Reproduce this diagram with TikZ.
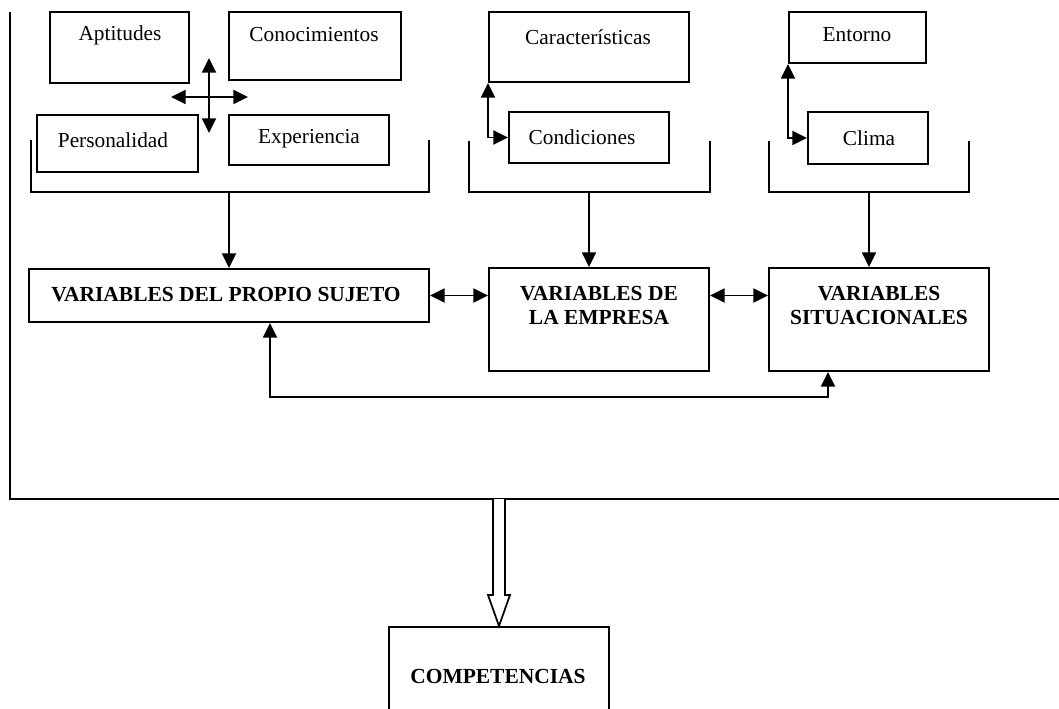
\documentclass[tikz,border=0pt]{standalone}
\usepackage{fontspec}
\setmainfont{Liberation Serif}
\usetikzlibrary{arrows.meta,calc}
% box given by name and its two corners (x1,y1) (x2,y2)
\newcommand\cajon[5]{%
  \node[box,minimum width={(#4-#2)*0.75pt},minimum height={(#5-#3)*0.75pt}]
    (#1) at ({(#2+#4)/2},{(#3+#5)/2}) {};}
\begin{document}
\begin{tikzpicture}[x=0.75pt,y=-0.75pt,
  box/.style={draw,line width=1.5pt,inner sep=0pt},
  lbl/.style={inner sep=0pt,font=\fontsize{16}{18}\selectfont},
  blbl/.style={inner sep=0pt,align=center,font=\fontsize{16.1}{18}\selectfont\bfseries},
  link/.style={line width=1.4pt},
  arr/.style={link,-{Triangle[length=11pt,width=10.5pt]}},
  darr/.style={link,{Triangle[length=11pt,width=10.5pt]}-{Triangle[length=11pt,width=10.5pt]}},
]
\useasboundingbox (0,0) rectangle (1059,709);

% outer frame
\coordinate (ftop) at (10,12);
\coordinate (fcorner) at (10,499);
\coordinate (fright) at (1062,499);
\draw[line width=1.5pt] (ftop) -- (fcorner) -- (fright);

% subject variables
\cajon{apt}{50}{12}{189}{83}
\node[lbl] (aptT) at (120,35) {Aptitudes};
\cajon{con}{229}{12}{401}{80}
\node[lbl] (conT) at (314,35) {Conocimientos};
\cajon{per}{37}{115}{198}{172}
\node[lbl] (perT) at (113,140) {Personalidad};
\cajon{exp}{229}{115}{389}{165}
\node[lbl] (expT) at (309,139) {Experiencia};

% four-way arrows between them
\coordinate (cu) at (209,58);
\coordinate (cd) at (209,133);
\coordinate (cl) at (171,97);
\coordinate (cr) at (248,97);
\draw[darr] (cu) -- (cd);
\draw[darr] (cl) -- (cr);

% company variables
\cajon{car}{489}{12}{689}{82}
\node[lbl] (carT) at (588,37) {Características};
\cajon{cond}{509}{112}{669}{163}
\node[lbl] (condT) at (582,137) {Condiciones};
\draw[darr] (car.south west) |- (cond.west);

% situational variables
\cajon{ent}{789}{12}{926}{63}
\node[lbl] (entT) at (857,35) {Entorno};
\cajon{cli}{808}{112}{928}{164}
\node[lbl] (cliT) at (869,138) {Clima};
\draw[darr] (ent.south west) |- (cli.west);

% main variable boxes
\cajon{v1}{29}{269}{429}{322}
\node[blbl] (v1T) at (226,295) {VARIABLES DEL PROPIO SUJETO};
\cajon{v2}{489}{268}{709}{371}
\node[blbl] (v2T) at (599,305) {VARIABLES DE\\LA EMPRESA};
\cajon{v3}{769}{268}{989}{371}
\node[blbl] (v3T) at (879,305) {VARIABLES\\SITUACIONALES};

% brackets gathering each group
\coordinate (b1) at (229,192);
\coordinate (b2) at (589,192);
\coordinate (b3) at (869,192);
\draw[link] (31,140) -- (31,192) -- (429,192) -- (429,140);
\draw[link] (469,141) -- (469,192) -- (710,192) -- (710,141);
\draw[link] (769,141) -- (769,192) -- (969,192) -- (969,141);
\draw[arr] (b1) -- (b1 |- v1.north);
\draw[arr] (b2) -- (b2 |- v2.north);
\draw[arr] (b3) -- (b3 |- v3.north);

% links between the main boxes
\draw[darr] (v1.east) -- (v1.east -| v2.west);
\draw[darr] (v2.east |- v1.east) -- (v3.west |- v1.east);
\coordinate (fb1) at (270,397);
\coordinate (fb2) at (828,397);
\draw[darr] (fb1 |- v1.south) -- (fb1) -- (fb2) -- (fb2 |- v3.south);

% result
\cajon{comp}{389}{627}{609}{740}
\node[blbl] (compT) at (498,676) {COMPETENCIAS};

% hollow arrow from the frame down to the result
\draw[line width=1.3pt,fill=white]
  (493,499) -- (493,595) -- (488,595) -- (comp.north) -- (510,595) -- (505,595) -- (505,499);
\end{tikzpicture}
\end{document}
